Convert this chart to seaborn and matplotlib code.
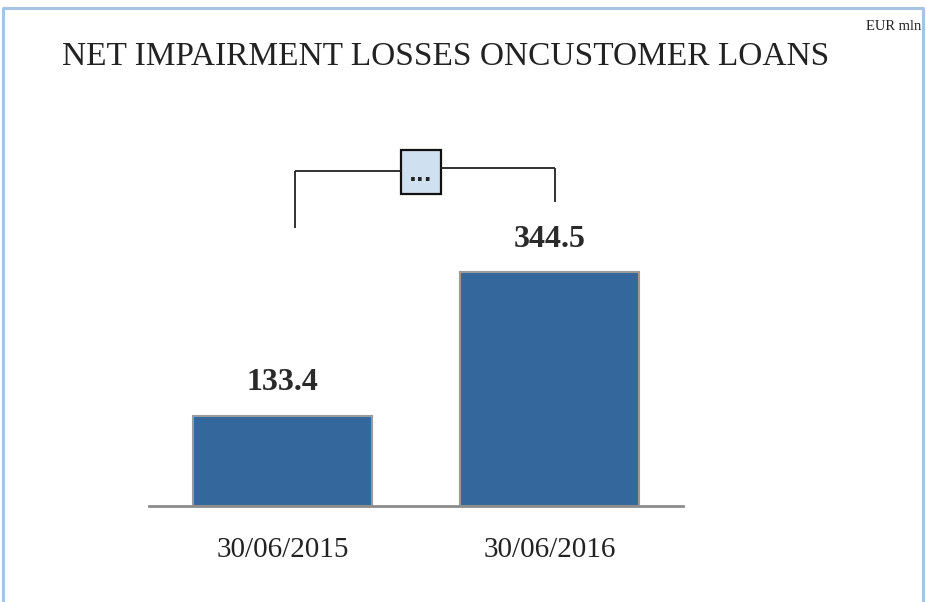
import matplotlib
matplotlib.use("Agg")
import matplotlib.pyplot as plt
import matplotlib.patches as mpatches
import seaborn as sns

# datos del grafico
fechas = ["30/06/2015", "30/06/2016"]
perdidas = [133.4, 344.5]
titulo = "NET IMPAIRMENT LOSSES ONCUSTOMER LOANS"
unidad = "EUR mln"

AZUL = "#34679b"
BORDE = "#a9c4e2"

sns.set_theme(style="white")
plt.rcParams['font.family'] = ['Liberation Serif', 'DejaVu Serif']

fig = plt.figure(figsize=(9.26, 6.02), dpi=100)
W, H = 926, 602

# marco azul claro (sin linea inferior)
fig.add_artist(plt.Line2D([3 / W, 3 / W, 923 / W, 923 / W],
                          [0, 1 - 8 / H, 1 - 8 / H, 0],
                          transform=fig.transFigure, color=BORDE, lw=2.2))

ax = fig.add_axes([149 / W, (H - 506) / H, 534 / W, 406 / H])

sns.barplot(x=fechas, y=perdidas, ax=ax, color=AZUL, width=0.67,
            edgecolor="#9a9a9a", linewidth=1.5, saturation=1)

ax.set_xlim(-0.5, 1.5)
ax.set_ylim(0, 599)
ax.set_yticks([])
ax.set_ylabel("")
ax.set_xlabel("")
sns.despine(ax=ax, left=True, top=True, right=True)
ax.spines['bottom'].set_color("#8c8c8c")
ax.spines['bottom'].set_linewidth(2)
ax.tick_params(axis='x', length=0, pad=22, labelsize=21, labelcolor="#222222")

# etiquetas de valor
for i, v in enumerate(perdidas):
    ax.annotate(f"{v:.1f}", (i, v), xytext=(0, 24), textcoords="offset points",
                ha="center", va="center", fontsize=23, fontweight="bold",
                color="#2a2a2a")

# corchete con caja "..."
lc = dict(color="#222222", lw=1.3, solid_capstyle="butt")
ax.plot([0.047, 0.047], [410, 494], **lc)
ax.plot([0.047, 0.443], [494, 494], **lc)
ax.plot([0.593, 1.022], [498.5, 498.5], **lc)
ax.plot([1.022, 1.022], [498.5, 448], **lc)
ax.add_patch(mpatches.Rectangle((0.443, 460), 0.15, 65, facecolor="#cfe0f0",
                                edgecolor="#111111", lw=1.6, clip_on=False))
ax.text(0.518, 488, "...", ha="center", va="center", fontsize=15,
        fontweight="bold", color="#222222", family="DejaVu Sans")

fig.text(62 / W, 1 - 57 / H, titulo, ha="left", va="center", fontsize=24,
         color="#222222")
fig.text(921 / W, 1 - 27 / H, unidad, ha="right", va="center", fontsize=10.5,
         color="#222222")

fig.savefig("out.png", dpi=100)
